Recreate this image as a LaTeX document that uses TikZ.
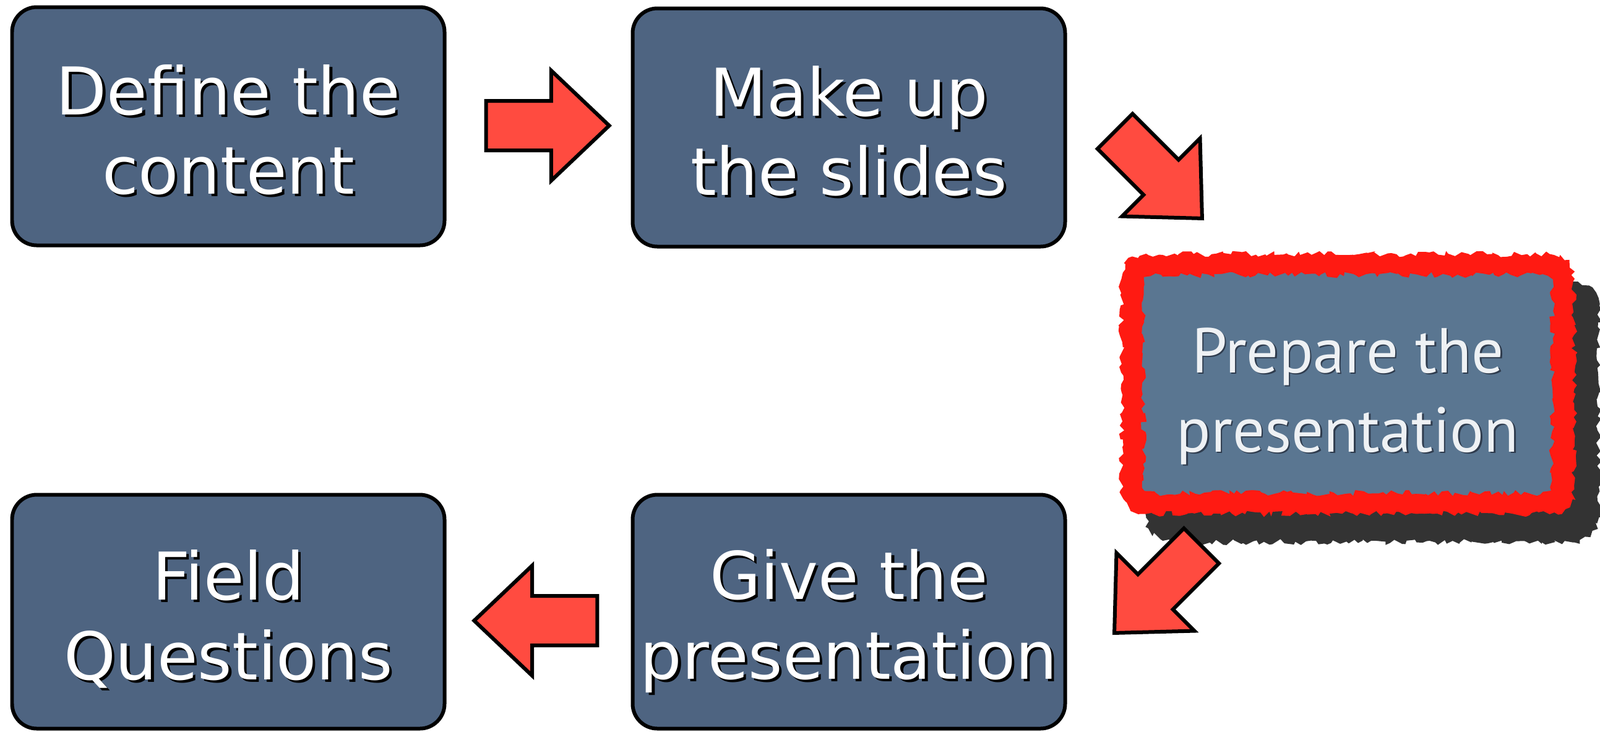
\documentclass[tikz,border=0pt]{standalone}
\usepackage{fontspec}
\setmainfont{DejaVu Sans}
\newfontfamily\gillfont{PT Sans}
\usetikzlibrary{shapes.arrows,decorations.pathmorphing,backgrounds}

\definecolor{boxblue}{HTML}{4E6481}
\definecolor{prepblue}{HTML}{5A7691}
\definecolor{prepred}{HTML}{FF1A12}
\definecolor{arrowred}{HTML}{FF4B40}
\definecolor{shadowgray}{HTML}{333333}
\definecolor{prepwhite}{HTML}{EEF1F4}

% white text with a small dark shadow
\newcommand{\shad}[1]{\rlap{\kern1.2pt\raisebox{-1.2pt}{\color{black}#1}}#1}
\newcommand{\softshad}[1]{\rlap{\kern0.7pt\raisebox{-0.7pt}{\color{boxblue!60!black}#1}}#1}
% two lines of box text, struts keep the baselines at the same place in every box
\newcommand{\twolines}[2]{\rule{0pt}{32.8pt}\shad{#1}\\\shad{#2}\rule[-7pt]{0pt}{7pt}}

\tikzset{
  stepbox/.style={draw, line width=0.06cm, fill=boxblue, rounded corners=0.4cm,
    minimum width=6.99cm, minimum height=3.85cm, inner sep=0pt, align=center,
    text=white, font=\fontsize{30.3}{36.6}\selectfont},
  flowarrow/.style={single arrow, draw, line width=0.06cm, fill=arrowred,
    minimum height=1.99cm, single arrow head extend=0.49cm,
    single arrow tip angle=87, inner xsep=0pt, inner ysep=0.37cm},
  rough/.style={decoration={random steps, segment length=2pt, amplitude=1.4pt}},
}

\begin{document}
\begin{tikzpicture}
  \useasboundingbox (0,0) rectangle (25.86,-11.82);

  \node[stepbox] (content) at (3.69,-2.04) {\twolines{Define the}{content}};
  \node[stepbox] (slides) at (13.72,-2.06) {\twolines{Make up}{the slides}};
  \node[stepbox, minimum height=3.78cm] (give) at (13.72,-9.885) {\twolines{Give the}{presentation}};
  \node[stepbox, minimum height=3.78cm] (field) at (3.69,-9.885) {\twolines{Field}{Questions}};

  % highlighted step
  \coordinate (pc) at (21.785,-6.205);
  \node[align=center, text=prepwhite, font=\gillfont\fontsize{29.2}{36.4}\selectfont]
    (prep) at ([yshift=-0.21cm]pc) {\softshad{Prepare the}\\\softshad{presentation}};
  \begin{scope}[on background layer]
    \fill[shadowgray] decorate[rough] {{[rounded corners=0.4cm] ([shift={(-3.26,-2.555)}]pc) rectangle ([shift={(4.06,1.655)}]pc)}};
    \fill[prepred] decorate[rough] {{[rounded corners=0.4cm] ([shift={(-3.66,-2.10)}]pc) rectangle ([shift={(3.66,2.10)}]pc)}};
    \fill[prepblue] decorate[rough] {{[rounded corners=0.2cm] ([shift={(-3.3,-1.76)}]pc) rectangle ([shift={(3.3,1.76)}]pc)}};
  \end{scope}

  \node[flowarrow, anchor=tip] (a1) at (9.89,-2.03) {};
  \node[flowarrow, anchor=tip, rotate=-45] (a2) at (19.46,-3.56) {};
  \node[flowarrow, anchor=tip, rotate=-135] (a3) at (17.98,-10.26) {};
  \node[flowarrow, anchor=tip, rotate=180] (a4) at (7.62,-10.03) {};
\end{tikzpicture}
\end{document}
